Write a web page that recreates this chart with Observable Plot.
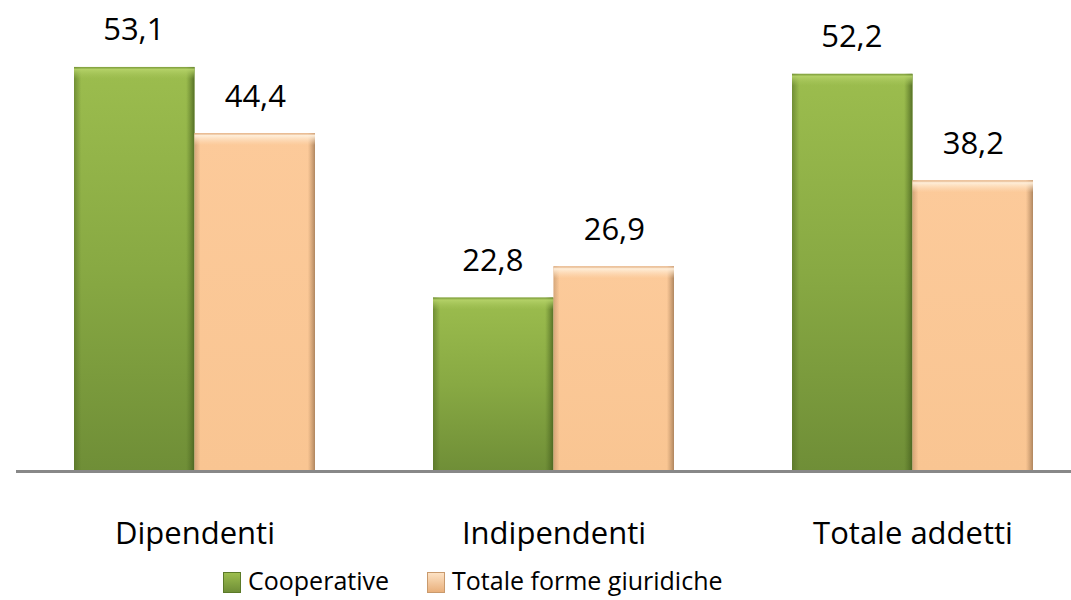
<!DOCTYPE html>
<html>
<head>
<meta charset="utf-8">
<script src="https://cdn.jsdelivr.net/npm/d3@7"></script>
<script src="https://cdn.jsdelivr.net/npm/@observablehq/plot@0.6"></script>
<style>
  html, body { margin: 0; padding: 0; background: #fff; }
  #chart { width: 1071px; height: 600px; position: relative; font-family: "Open Sans", sans-serif; }
  #legend { height: 40px; display: flex; align-items: center; padding-left: 223px; font-size: 25px; color: #000; }
  .item { display: flex; align-items: center; margin-right: 38px; }
  .sw { width: 18px; height: 21px; margin-right: 7px; margin-top: 5px; box-sizing: border-box; }
  svg text { font-family: "Open Sans", sans-serif; }
</style>
</head>
<body>
<div id="chart"></div>
<script>
const categories = ["Dipendenti", "Indipendenti", "Totale addetti"];
const series = ["Cooperative", "Totale forme giuridiche"];
const cooperative = [53.1, 22.8, 52.2];
const totaleForme = [44.4, 26.9, 38.2];

const fmt = v => v.toFixed(1).replace(".", ",");
const dataCoop = categories.map((c, i) => ({category: c, value: cooperative[i]}));
const dataTot = categories.map((c, i) => ({category: c, value: totaleForme[i]}));

const half = 120.5;

const plot = Plot.plot({
  width: 1071,
  height: 560,
  marginTop: 0,
  marginBottom: 89,
  marginLeft: 16,
  marginRight: 0,
  x: {domain: categories, range: [74, 1033], paddingInner: 0.33, paddingOuter: 0, label: null},
  y: {domain: [0, 61.9], axis: null},
  marks: [
    Plot.barY(dataCoop, {x: "category", y: "value", fill: "url(#gGreen)", insetRight: half}),
    Plot.barY(dataCoop, {x: "category", y: "value", fill: "url(#gEdgeGreen)", insetRight: half}),
    Plot.barY(dataCoop, {x: "category", y1: "value", y2: "value", fill: "url(#gTopGreen)", insetRight: half, insetBottom: -12}),
    Plot.barY(dataTot, {x: "category", y: "value", fill: "url(#gPeach)", insetLeft: half}),
    Plot.barY(dataTot, {x: "category", y: "value", fill: "url(#gEdgePeach)", insetLeft: half}),
    Plot.barY(dataTot, {x: "category", y1: "value", y2: "value", fill: "url(#gTopPeach)", insetLeft: half, insetBottom: -12}),
    Plot.ruleY([0], {stroke: "#888888", strokeWidth: 3}),
    Plot.text(dataCoop, {x: "category", y: "value", text: d => fmt(d.value), dx: -half / 2 - 1, dy: -37, fontSize: 31, fill: "#000"}),
    Plot.text(dataTot, {x: "category", y: "value", text: d => fmt(d.value), dx: half / 2, dy: -37, fontSize: 31, fill: "#000"}),
    Plot.axisX({tickSize: 0, tickPadding: 50, fontSize: 31, color: "#000", label: null})
  ]
});

const defs = `
<defs>
  <linearGradient id="gGreen" x1="0" y1="0" x2="0" y2="1">
    <stop offset="0" stop-color="#9cbd4e"/>
    <stop offset="0.5" stop-color="#88a943"/>
    <stop offset="1" stop-color="#6f8e37"/>
  </linearGradient>
  <linearGradient id="gEdgeGreen" x1="0" y1="0" x2="1" y2="0">
    <stop offset="0" stop-color="#4f6a22" stop-opacity="0.55"/>
    <stop offset="0.06" stop-color="#4f6a22" stop-opacity="0"/>
    <stop offset="0.93" stop-color="#4f6a22" stop-opacity="0"/>
    <stop offset="1" stop-color="#3f581a" stop-opacity="0.75"/>
  </linearGradient>
  <linearGradient id="gTopGreen" x1="0" y1="0" x2="0" y2="1">
    <stop offset="0" stop-color="#6b8a2f" stop-opacity="0.6"/>
    <stop offset="0.2" stop-color="#b6d36a" stop-opacity="0.9"/>
    <stop offset="1" stop-color="#a6c55a" stop-opacity="0"/>
  </linearGradient>
  <linearGradient id="gPeach" x1="0" y1="0" x2="0" y2="1">
    <stop offset="0" stop-color="#fcca9a"/>
    <stop offset="1" stop-color="#f9c592"/>
  </linearGradient>
  <linearGradient id="gEdgePeach" x1="0" y1="0" x2="1" y2="0">
    <stop offset="0" stop-color="#a77c55" stop-opacity="0.45"/>
    <stop offset="0.05" stop-color="#a77c55" stop-opacity="0"/>
    <stop offset="0.94" stop-color="#a77c55" stop-opacity="0"/>
    <stop offset="1" stop-color="#8f6a48" stop-opacity="0.7"/>
  </linearGradient>
  <linearGradient id="gTopPeach" x1="0" y1="0" x2="0" y2="1">
    <stop offset="0" stop-color="#d9a67a" stop-opacity="0.7"/>
    <stop offset="0.2" stop-color="#fff0dc" stop-opacity="0.95"/>
    <stop offset="1" stop-color="#fde0c0" stop-opacity="0"/>
  </linearGradient>
</defs>`;
plot.insertAdjacentHTML("afterbegin", defs);

const chart = document.getElementById("chart");
chart.appendChild(plot);

const colors = ["linear-gradient(#9cbd4e, #6f8e37)", "linear-gradient(#fde2c4, #e9b07c)"];
const borders = ["#5b7a28", "#c99a6d"];
const legend = document.createElement("div");
legend.id = "legend";
series.forEach((s, i) => {
  const item = document.createElement("div");
  item.className = "item";
  const sw = document.createElement("div");
  sw.className = "sw";
  sw.style.background = colors[i];
  sw.style.border = "1px solid " + borders[i];
  const label = document.createElement("span");
  label.textContent = s;
  item.appendChild(sw);
  item.appendChild(label);
  legend.appendChild(item);
});
chart.appendChild(legend);
</script>
</body>
</html>
